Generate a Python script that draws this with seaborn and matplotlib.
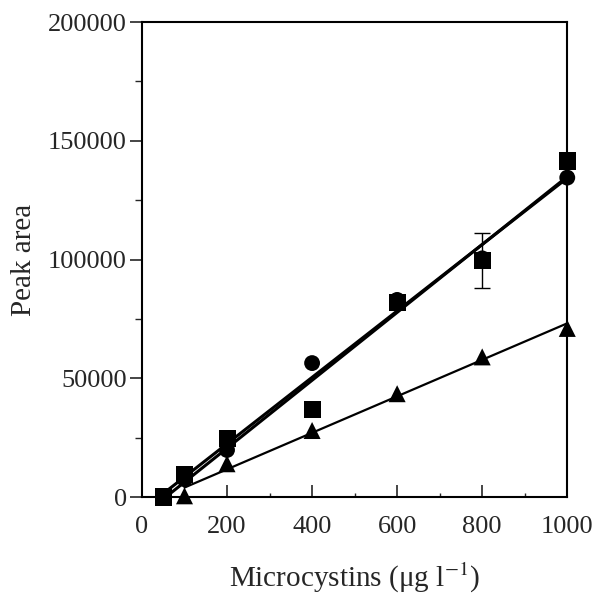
import numpy as np
import pandas as pd
import matplotlib
matplotlib.use("Agg")
import matplotlib.pyplot as plt
import seaborn as sns

# Data
conc_sq = [50, 100, 200, 400, 600, 800, 1000]
area_sq = [0, 9300, 24800, 37000, 82000, 99500, 141500]
conc_ci = [50, 100, 200, 400, 600, 800, 1000]
area_ci = [0, 7500, 19800, 56400, 83000, 100500, 134500]
conc_tr = [100, 200, 400, 600, 800, 1000]
area_tr = [500, 14000, 28000, 43500, 59000, 71000]
err_x = [800]
err_y = [99500]
err_val = [11500]

x_ticks = [0, 200, 400, 600, 800, 1000]
y_ticks = [0, 50000, 100000, 150000, 200000]

sns.set_style("ticks")
plt.rcParams['font.family'] = ['Liberation Serif', 'DejaVu Serif']
plt.rcParams['mathtext.fontset'] = 'stix'

fig = plt.figure(figsize=(5.94, 5.97), dpi=100)
ax = fig.add_axes([0.239, 0.1675, 0.716, 0.7955])

df_sq = pd.DataFrame({"x": conc_sq, "y": area_sq})
df_ci = pd.DataFrame({"x": conc_ci, "y": area_ci})
df_tr = pd.DataFrame({"x": conc_tr, "y": area_tr})

sk = {"edgecolors": "none", "zorder": 3, "alpha": 1, "clip_on": False}
sns.regplot(data=df_ci, x="x", y="y", ax=ax, ci=None, marker="o", color="black",
            scatter_kws={**sk, "s": 130},
            line_kws={"lw": 2.2, "zorder": 4})
sns.regplot(data=df_sq, x="x", y="y", ax=ax, ci=None, marker="s", color="black",
            scatter_kws={**sk, "s": 150},
            line_kws={"lw": 2.2, "zorder": 4})
sns.regplot(data=df_tr, x="x", y="y", ax=ax, ci=None, marker="^", color="black",
            scatter_kws={**sk, "s": 150},
            line_kws={"lw": 1.6, "zorder": 4})

ax.errorbar(err_x, err_y, yerr=err_val, fmt="none", ecolor="black",
            elinewidth=1.0, capsize=6, capthick=1.0, zorder=1)

ax.set_xlim(0, 1000)
ax.set_ylim(0, 200000)
ax.set_xticks(x_ticks)
ax.set_xticks(np.arange(100, 1000, 200), minor=True)
ax.set_yticks(y_ticks)
ax.set_yticks(np.arange(25000, 200000, 50000), minor=True)
ax.set_xticklabels([str(v) for v in x_ticks])
ax.set_yticklabels([str(v) for v in y_ticks])

ax.tick_params(axis="x", which="major", direction="in", length=9, width=1.2,
               labelsize=19, pad=14)
ax.tick_params(axis="x", which="minor", direction="in", length=3, width=1.0)
ax.tick_params(axis="y", which="major", direction="out", length=9, width=1.2,
               labelsize=19, pad=2)
ax.tick_params(axis="y", which="minor", direction="out", length=5, width=1.0)
for s in ax.spines.values():
    s.set_visible(True)
    s.set_linewidth(1.5)
    s.set_color("black")

ax.set_xlabel("Microcystins (\u03bcg l$^{\\mathrm{-1}}$)", fontsize=21, labelpad=16)
ax.set_ylabel("Peak area", fontsize=21, labelpad=8)

fig.savefig("out.png", dpi=100, facecolor="white")
